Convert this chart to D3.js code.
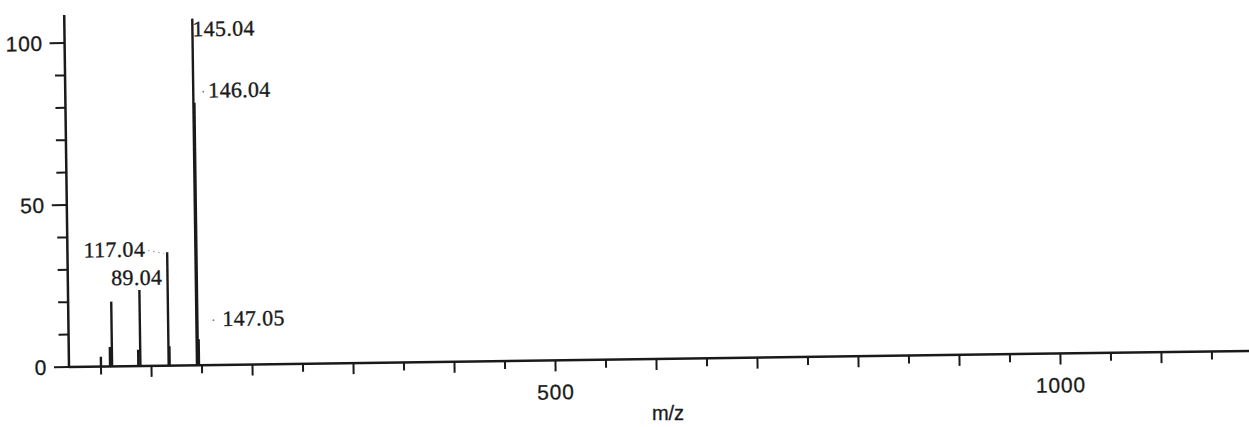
<!DOCTYPE html>
<html>
<head>
<meta charset="utf-8">
<script src="https://cdn.jsdelivr.net/npm/d3@7"></script>
<style>
  html, body { margin: 0; padding: 0; background: #fff; }
  svg { display: block; }
</style>
</head>
<body>
<svg id="chart" width="1249" height="427"></svg>
<script>
// ---- data ----
const peakMz        = [50, 59, 61, 87, 89.04, 117.04, 118, 145.04, 146.04, 147.05];
const peakIntensity = [3, 6, 20, 5, 23.5, 35, 6, 107, 81, 8];
const labelTexts    = ["145.04", "146.04", "147.05", "117.04", "89.04"];
const labelMz       = [145.04, 146.04, 147.05, 117.04, 89.04];
const xTickValues   = [50,100,150,200,250,300,350,400,450,500,550,600,650,700,750,800,850,900,950,1000,1050,1100,1150];
const xTickLabels   = {500: "500", 1000: "1000"};
const yTickValues   = [0,10,20,30,40,50,60,70,80,90,100];
const yTickLabels   = {0: "0", 50: "50", 100: "100"};
const xTitle = "m/z";

// ---- layout ----
const svg = d3.select("#chart");
const W = 1249;
const x = d3.scaleLinear().domain([0, 1200]).range([50.5, 1262.5]);
const y = d3.scaleLinear().domain([0, 100]).range([367, 43]);
const x0 = 69;           // y-axis position
const ink = "#1a1a1a";
const sans = "Liberation Sans, Arial, sans-serif";
const serif = "Liberation Serif, Times New Roman, serif";

const g = svg.append("g").attr("transform", `rotate(-0.78, ${x0}, ${y(0)})`);

// y axis line
g.append("line").attr("x1", x0).attr("x2", x0).attr("y1", 15).attr("y2", y(0))
  .attr("stroke", ink).attr("stroke-width", 2.5);
// y ticks
g.selectAll(".ytick").data(yTickValues).enter().append("line")
  .attr("x1", d => yTickLabels[d] !== undefined ? x0 - 15 : x0 - 10)
  .attr("x2", x0).attr("y1", d => y(d)).attr("y2", d => y(d))
  .attr("stroke", ink).attr("stroke-width", 2);
g.selectAll(".ylab").data(yTickValues.filter(d => yTickLabels[d] !== undefined)).enter().append("text")
  .attr("x", x0 - 22).attr("y", d => y(d)).attr("dy", "0.36em")
  .attr("text-anchor", "end")
  .attr("font-family", sans).attr("font-size", 21)
  .attr("letter-spacing", 0.6)
  .attr("stroke", ink).attr("stroke-width", 0.3)
  .attr("fill", ink).text(d => yTickLabels[d]);

// x axis line
g.append("line").attr("x1", x0).attr("x2", W + 30).attr("y1", y(0)).attr("y2", y(0))
  .attr("stroke", ink).attr("stroke-width", 2.5);
// x ticks
g.selectAll(".xtick").data(xTickValues).enter().append("line")
  .attr("x1", d => x(d)).attr("x2", d => x(d))
  .attr("y1", y(0)).attr("y2", d => y(0) + (d % 100 === 0 ? 11 : 8))
  .attr("stroke", ink).attr("stroke-width", 2);
g.selectAll(".xlab").data(xTickValues.filter(d => xTickLabels[d] !== undefined)).enter().append("text")
  .attr("x", d => x(d)).attr("y", y(0) + 39)
  .attr("text-anchor", "middle")
  .attr("font-family", sans).attr("font-size", 21)
  .attr("letter-spacing", 0.8)
  .attr("stroke", ink).attr("stroke-width", 0.3)
  .attr("fill", ink).text(d => xTickLabels[d]);

// axis title
svg.append("text").attr("x", 668).attr("y", 420).attr("text-anchor", "middle")
  .attr("font-family", sans).attr("font-size", 20)
  .attr("stroke", ink).attr("stroke-width", 0.3)
  .attr("fill", ink).text(xTitle);

// peaks
g.selectAll(".peak").data(peakMz).enter().append("line")
  .attr("x1", d => x(d)).attr("x2", d => x(d))
  .attr("y1", y(0)).attr("y2", (d, i) => y(peakIntensity[i]))
  .attr("stroke", ink).attr("stroke-width", 2.4);

// peak labels (placement offsets)
const intensityOf = m => peakIntensity[peakMz.indexOf(m)];
const labelPlace = {
  "145.04": {dx: 0,   y: () => y(100) - 5,          anchor: "start", dot: null},
  "146.04": {dx: 14,  y: m => y(intensityOf(m)) - 5, anchor: "start", dot: -5},
  "147.05": {dx: 24,  y: () => y(12),               anchor: "start", dot: -9},
  "117.04": {dx: -22, y: m => y(intensityOf(m)) + 4, anchor: "end",   dot: null},
  "89.04":  {dx: 23,  y: m => y(intensityOf(m)) - 5, anchor: "end",   dot: null}
};
labelTexts.forEach((t, i) => {
  const m = labelMz[i], p = labelPlace[t];
  const lx = x(m) + p.dx, ly = p.y(m);
  g.append("text").attr("x", lx).attr("y", ly).attr("text-anchor", p.anchor)
    .attr("font-family", serif).attr("font-size", 22)
    .attr("letter-spacing", 0.3)
    .attr("stroke", ink).attr("stroke-width", 0.35)
    .attr("fill", ink).text(t);
  if (p.dot !== null) {
    g.append("circle").attr("cx", lx + p.dot).attr("cy", ly - 6).attr("r", 0.9).attr("fill", "#777");
  }
});
// dotted leader for 117.04
{
  const m = 117.04;
  const sx = x(m) - 19, sy = y(intensityOf(m)) - 2;
  g.append("line").attr("x1", sx).attr("y1", sy).attr("x2", x(m) - 3).attr("y2", y(intensityOf(m)) + 1)
    .attr("stroke", "#888").attr("stroke-width", 1.2).attr("stroke-dasharray", "1.2,4");
}
</script>
</body>
</html>
